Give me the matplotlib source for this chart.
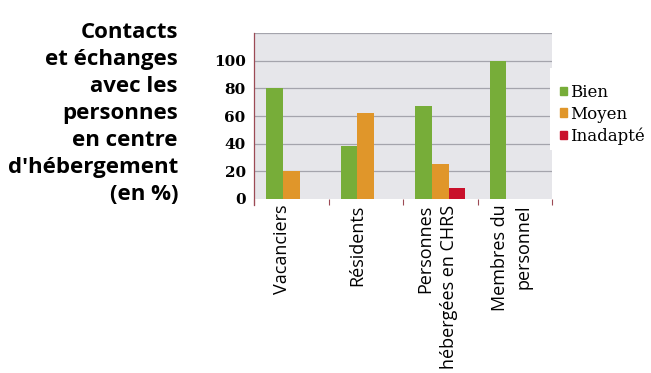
import numpy as np
import matplotlib.pyplot as plt
from matplotlib.patches import Patch, Rectangle

# ── DATA ──────────────────────────────────────────────────────────────────────
categories = ["Vacanciers", "Résidents", "Personnes\nhébergées en CHRS",
              "Membres du\npersonnel"]
bien = [80, 38, 67, 100]
moyen = [20, 62, 25, 0]
inadapte = [0, 0, 8, 0]
series_names = ["Bien", "Moyen", "Inadapté"]
y_ticks = [0, 20, 40, 60, 80, 100]

title = "Contacts\net échanges\navec les\npersonnes\nen centre\nd'hébergement\n(en %)"

# ── STYLE ─────────────────────────────────────────────────────────────────────
colors = ["#77ad39", "#e0962a", "#c9102b"]
bg = "#e6e6ea"
grid_col = "#a4a4ac"
axis_col = "#9c4a55"

W, H = 651, 373
fig = plt.figure(figsize=(W / 100, H / 100), dpi=100)
ax = fig.add_axes([254 / W, 1 - 199 / H, 298 / W, 166 / H])
ax.set_facecolor(bg)

x = np.arange(len(categories))
w = 0.224
for i, vals in enumerate([bien, moyen, inadapte]):
    ax.bar(x + (i - 1) * w, vals, width=w, color=colors[i], zorder=3)

ax.set_xlim(-0.5, len(categories) - 0.5)
ax.set_ylim(0, 120)
ax.set_yticks(y_ticks)
ax.set_yticklabels([str(v) for v in y_ticks], fontfamily="DejaVu Serif",
                   fontweight="bold", fontsize=11)
for v in y_ticks[1:] + [120]:
    ax.axhline(v, color=grid_col, linewidth=0.9, zorder=1)

ax.tick_params(axis="y", length=0, pad=6)
ax.set_xticks(np.arange(-0.5, len(categories), 1.0))
ax.set_xticklabels([])
ax.tick_params(axis="x", length=4, color=axis_col, width=0.8)

for s in ["top", "right", "bottom"]:
    ax.spines[s].set_visible(False)
ax.spines["left"].set_color(axis_col)
ax.spines["left"].set_linewidth(0.9)
ax.spines["left"].set_bounds(-4, 120)
ax.spines["left"].set_clip_on(False)

# category labels, rotated and hanging below the axis
for xi, lab in zip(x, categories):
    shift = -0.12 if "\n" not in lab else -0.04
    ax.text(xi + shift, -4, lab, rotation=90, ha="center", va="top",
            multialignment="right", fontsize=13, fontfamily="Open Sans",
            linespacing=1.45, clip_on=False)

# white panel behind the legend, covering the right edge of the plot
fig.patches.append(Rectangle((550 / W, 1 - 150 / H), 101 / W, 82 / H,
                             transform=fig.transFigure, facecolor="white",
                             edgecolor="none", zorder=5))

handles = [Patch(color=c) for c in colors]
leg = fig.legend(handles, series_names, loc="upper left",
                 bbox_to_anchor=(560 / W, 1 - 84 / H),
                 prop={"family": "DejaVu Serif", "size": 12},
                 frameon=False, handlelength=0.42, handleheight=0.42,
                 handletextpad=0.2, labelspacing=0.28, borderpad=0,
                 borderaxespad=0)
leg.set_zorder(6)

fig.text(178 / W, 1 - 22 / H, title, ha="right", va="top",
         multialignment="right", fontsize=16, fontweight="bold",
         fontfamily="Open Sans", linespacing=1.38)

fig.savefig("out.png", dpi=100)
